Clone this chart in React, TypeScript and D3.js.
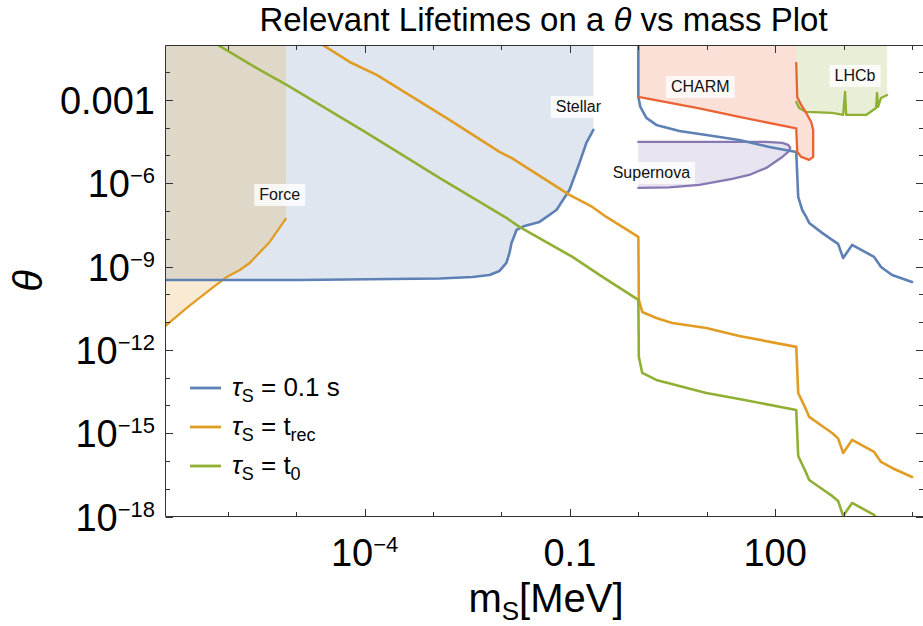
import React from "react";
import * as d3 from "d3";

type P = [number, number];

// ---- axis extents & ticks ----
const X_DOMAIN: [number, number] = [1.23e-7, 1.47e4];
const Y_DOMAIN: [number, number] = [1e-18, 0.0912];
const xTickValues = [1e-6, 1e-5, 1e-4, 1e-3, 1e-2, 1e-1, 1, 10, 100, 1e3, 1e4];
const xLabelValues = [1e-4, 0.1, 100];
const xLabelBase = ["10", "0.1", "100"];
const xLabelSup = ["−4", "", ""];
const yTickValues = [1e-18, 1e-17, 1e-16, 1e-15, 1e-14, 1e-13, 1e-12, 1e-11, 1e-10, 1e-9, 1e-8, 1e-7, 1e-6, 1e-5, 1e-4, 1e-3, 1e-2];
const yLabelValues = [1e-3, 1e-6, 1e-9, 1e-12, 1e-15, 1e-18];
const yLabelBase = ["0.001", "10", "10", "10", "10", "10"];
const yLabelSup = ["", "−6", "−9", "−12", "−15", "−18"];

// ---- curves [mass MeV, theta] ----
const tau01Stellar: P[] = [
  [1.23e-7, 3.3e-10], [1.12e-5, 3.3e-10], [1.24e-3, 3.73e-10], [3.77e-3, 4.23e-10],
  [6.68e-3, 4.99e-10], [9.35e-3, 6.95e-10], [0.0118, 1.35e-9], [0.0131, 3.09e-9],
  [0.014, 7.09e-9], [0.0166, 2.08e-8], [0.0217, 2.9e-8], [0.0359, 4.05e-8],
  [0.0636, 1.09e-7], [0.0984, 5.74e-7], [0.138, 5.38e-6], [0.174, 2.83e-5], [0.22, 8.32e-5],
];
const tau01Heavy: P[] = [
  [1.0, 0.145], [1.0, 1.28e-3], [1.07, 5.6e-4], [1.31, 2.25e-4], [1.83, 1.26e-4],
  [3.97, 7.66e-5], [9.84, 5.5e-5], [29.8, 3.63e-5], [81.7, 2.03e-5], [203, 1.34e-5],
  [210, 1.99e-6], [217, 3.21e-7], [248, 1.09e-7], [284, 6.12e-8], [314, 3.72e-8],
  [485, 1.63e-8], [679, 9.1e-9], [830, 6.53e-9], [984, 2.04e-9], [1330, 6.01e-9],
  [2790, 2.22e-9], [3520, 9.68e-10], [5100, 4.99e-10], [1e4, 2.79e-10],
];
const tauRec: P[] = [
  [1.6e-5, 0.17], [2.44e-5, 0.0957], [6.04e-5, 0.0233], [1.5e-4, 7.94e-3], [1.74e-3, 1.91e-4],
  [9.35e-3, 1.34e-5], [0.014, 8.15e-6], [0.0984, 3.79e-7], [0.213, 1.4e-7], [0.341, 6.12e-8],
  [1.0, 1.17e-8], [1.017, 6.28e-11], [1.14, 2.32e-11], [1.83, 1.41e-11], [3.13, 9.33e-12],
  [9.84, 6.17e-12], [29.8, 3.18e-12], [203, 1.28e-12], [217, 2.81e-14], [284, 6.9e-15],
  [314, 3.85e-15], [485, 1.82e-15], [679, 1.02e-15], [830, 6.5e-16], [984, 1.95e-16],
  [1330, 5.71e-16], [2790, 2.11e-16], [3520, 9.2e-17], [5100, 5.6e-17], [1e4, 2.65e-17],
];
const tau0: P[] = [
  [4.6e-7, 0.19], [7.14e-7, 0.0957], [2.93e-6, 0.012], [7.26e-6, 3.47e-3], [1.07e-4, 6.48e-5],
  [1.24e-3, 1.55e-6], [0.0118, 5.64e-8], [0.0183, 2.67e-8], [0.109, 2.22e-9], [0.27, 4.99e-10],
  [1.0, 6.28e-11], [1.017, 5.56e-13], [1.14, 1.48e-13], [1.83, 8.26e-14], [9.84, 2.81e-14],
  [29.8, 1.71e-14], [203, 6.87e-15], [217, 1.51e-16], [284, 3.7e-17], [314, 2.07e-17],
  [485, 9.8e-18], [679, 5.5e-18], [830, 3.63e-18], [984, 1.05e-18], [1330, 3.07e-18],
  [2790, 1.14e-18], [2980, 8.9e-19],
];

// ---- excluded regions ----
const forceBoundary: P[] = [
  [1.23e-7, 7.28e-12], [2.52e-7, 3.24e-11], [5.45e-7, 1.44e-10], [9.66e-7, 4.23e-10],
  [1.5e-6, 7.55e-10], [2.09e-6, 1.35e-9], [4.1e-6, 7.7e-9], [7.03e-6, 5.19e-8],
];
const charmBoundary: P[] = [
  [203, 0.0215], [210, 1.28e-3], [240, 6.61e-4], [284, 3.4e-4], [336, 1.61e-4],
  [359, 8.32e-5], [359, 8.85e-6], [314, 6.9e-6], [240, 8.85e-6], [210, 1.34e-5],
  [203, 9.42e-5], [29.8, 2.44e-4], [7.76, 4.94e-4], [1.0, 1.28e-3],
];
const lhcbBoundary: P[] = [
  [203, 8.47e-4], [224, 5.15e-4], [284, 3.7e-4], [679, 3.4e-4], [984, 2.88e-4],
  [1050, 1.94e-3], [1090, 2.88e-4], [2130, 2.88e-4], [2980, 5.15e-4], [3080, 1.79e-3],
  [3190, 5.6e-4], [3520, 1.18e-3], [4320, 1.51e-3],
];
const supernovaBoundary: P[] = [
  [1.0, 3.08e-5], [74.0, 3.08e-5], [127, 2.83e-5], [155, 2.4e-5], [166, 1.87e-5],
  [155, 1.34e-5], [127, 8.85e-6], [74.0, 3.56e-6], [41.7, 1.99e-6], [23.6, 1.43e-6],
  [7.78, 8.69e-7], [2.84, 7.06e-7], [1.0, 6.78e-7],
];
const regionNames = ["Force", "Stellar", "CHARM", "Supernova", "LHCb"];
const regionLabelAt: P[] = [[5.74e-6, 3.79e-7], [0.133, 5.6e-4], [8.03, 2.94e-3], [1.55, 2.35e-6], [1470, 7.31e-3]];

const legendNames = ["0.1 s", "t", "t"];
const legendSubs = ["", "rec", "0"];

const C_BLUE = "#5E81B5";
const C_ORANGE = "#E19C24";
const C_GREEN = "#8FB032";
const C_RED = "#EB6235";
const C_PURPLE = "#8778B3";
const FONT = "'Liberation Sans', Arial, Helvetica, sans-serif";

const W = 923, H = 626;
const L = 165.5, R = 923.5, T = 45.5, B = 516.5;

function textWidth(s: string, size: number) {
  if (typeof document === "undefined") return s.length * size * 0.55;
  const c = document.createElement("canvas").getContext("2d");
  if (!c) return s.length * size * 0.55;
  c.font = `${size}px 'Liberation Sans', Arial`;
  return c.measureText(s).width;
}

export default function App() {
  const x = d3.scaleLog().domain(X_DOMAIN).range([L, R]);
  const y = d3.scaleLog().domain(Y_DOMAIN).range([B, T]);
  const line = d3.line<P>().x((d) => x(d[0])).y((d) => y(d[1]));
  const TOP = 1;
  const LEFT = 1e-8;

  const stellarFill = [...tau01Stellar, [0.22, TOP] as P, [LEFT, TOP] as P, [LEFT, 3.3e-10] as P];
  const forceFill = [...forceBoundary, [7.03e-6, TOP] as P, [LEFT, TOP] as P, [LEFT, 7.28e-12] as P];
  const charmFill = [[1.0, TOP] as P, [203, TOP] as P, ...charmBoundary];
  const lhcbFill = [[203, TOP] as P, ...lhcbBoundary, [4320, TOP] as P];

  const tickStroke = "#333";
  const labelFs = 16;
  const lw = 2.6;
  const bw = 2.3;

  return (
    <svg width={W} height={H} style={{ display: "block", position: "absolute", left: 0, top: 0 }} fontFamily={FONT}>
      <defs>
        <clipPath id="plotclip">
          <rect x={L} y={T} width={R - L} height={B - T} />
        </clipPath>
      </defs>
      <rect x={0} y={0} width={W} height={H} fill="#fff" />
      <g clipPath="url(#plotclip)" strokeLinejoin="round" strokeLinecap="round">
        <path d={line(stellarFill) + "Z"} fill={C_BLUE} fillOpacity={0.2} />
        <path d={line(forceFill) + "Z"} fill={C_ORANGE} fillOpacity={0.2} />
        <path d={line(charmFill) + "Z"} fill={C_RED} fillOpacity={0.2} />
        <path d={line(lhcbFill) + "Z"} fill={C_GREEN} fillOpacity={0.2} />
        <path d={line(supernovaBoundary) + "Z"} fill={C_PURPLE} fillOpacity={0.2} />

        <path d={line(supernovaBoundary) || ""} fill="none" stroke={C_PURPLE} strokeWidth={bw} />
        <path d={line(forceBoundary) || ""} fill="none" stroke={C_ORANGE} strokeWidth={bw} />
        <path d={line(lhcbBoundary) || ""} fill="none" stroke={C_GREEN} strokeWidth={bw} />

        <path d={line(tau01Stellar) || ""} fill="none" stroke={C_BLUE} strokeWidth={lw} />
        <path d={line(tau01Heavy) || ""} fill="none" stroke={C_BLUE} strokeWidth={lw} />
        <path d={line(tauRec) || ""} fill="none" stroke={C_ORANGE} strokeWidth={lw} />
        <path d={line(tau0) || ""} fill="none" stroke={C_GREEN} strokeWidth={lw} />
        <path d={line(charmBoundary) || ""} fill="none" stroke={C_RED} strokeWidth={bw} />

        {regionNames.map((n, i) => {
          const cx = x(regionLabelAt[i][0]);
          const cy = y(regionLabelAt[i][1]);
          const w = textWidth(n, labelFs) + 10;
          return (
            <g key={n}>
              <rect x={cx - w / 2} y={cy - 11} width={w} height={22} fill="#fff" fillOpacity={0.8} />
              <text x={cx} y={cy + 5.5} textAnchor="middle" fontSize={labelFs} fill="#111">{n}</text>
            </g>
          );
        })}
      </g>

      {/* frame */}
      <g stroke={tickStroke} strokeWidth={1} fill="none">
        <line x1={L} y1={T} x2={R} y2={T} />
        <line x1={L} y1={B} x2={R} y2={B} />
        <line x1={L} y1={T} x2={L} y2={B} />
        <line x1={R} y1={T} x2={R} y2={B} />
        {xTickValues.map((v) => {
          const len = xLabelValues.includes(v) ? 7.5 : 4.5;
          const px = Math.round(x(v)) + 0.5;
          return (
            <g key={"xt" + v}>
              <line x1={px} y1={B} x2={px} y2={B - len} />
              <line x1={px} y1={T} x2={px} y2={T + len} />
            </g>
          );
        })}
        {yTickValues.map((v) => {
          const len = yLabelValues.includes(v) ? 7.5 : 4.5;
          const py = Math.round(y(v)) + 0.5;
          return (
            <g key={"yt" + v}>
              <line x1={L} y1={py} x2={L + len} y2={py} />
              <line x1={R} y1={py} x2={R - len} y2={py} />
            </g>
          );
        })}
      </g>

      {/* tick labels */}
      {xLabelValues.map((v, i) => (
        <text key={"xl" + v} x={x(v)} y={566} textAnchor="middle" fontSize={38} fill="#000">
          <tspan>{xLabelBase[i]}</tspan>
          {xLabelSup[i] ? <tspan dy={-14} fontSize={22}>{xLabelSup[i]}</tspan> : null}
        </text>
      ))}
      {yLabelValues.map((v, i) => (
        <text key={"yl" + v} x={155} y={y(v) + 14} textAnchor="end" fontSize={38} fill="#000">
          <tspan>{yLabelBase[i]}</tspan>
          {yLabelSup[i] ? <tspan dy={-14} fontSize={22}>{yLabelSup[i]}</tspan> : null}
        </text>
      ))}

      {/* titles */}
      <text x={(L + R) / 2 - 1} y={31} textAnchor="middle" fontSize={33} fill="#000">
        Relevant Lifetimes on a <tspan fontStyle="italic">θ</tspan> vs mass Plot
      </text>
      <text x={546} y={612} textAnchor="middle" fontSize={40} fill="#000">
        <tspan>m</tspan>
        <tspan dy={8} fontSize={26}>S</tspan>
        <tspan dy={-8}>[MeV]</tspan>
      </text>
      <text transform={`translate(42, ${(T + B) / 2}) rotate(-90)`} textAnchor="middle" fontSize={40} fontStyle="italic" fill="#000">
        θ
      </text>

      {/* legend */}
      {[C_BLUE, C_ORANGE, C_GREEN].map((c, i) => {
        const ly = 388 + i * 39;
        return (
          <g key={"lg" + i}>
            <line x1={190} x2={221} y1={ly} y2={ly} stroke={c} strokeWidth={2.8} />
            <text x={232} y={ly + 8} fontSize={26} fill="#000">
              <tspan fontStyle="italic">τ</tspan>
              <tspan dy={6} fontSize={18}>S</tspan>
              <tspan dy={-6}>{" = " + legendNames[i]}</tspan>
              {legendSubs[i] ? <tspan dy={6} fontSize={18}>{legendSubs[i]}</tspan> : null}
            </text>
          </g>
        );
      })}
    </svg>
  );
}
